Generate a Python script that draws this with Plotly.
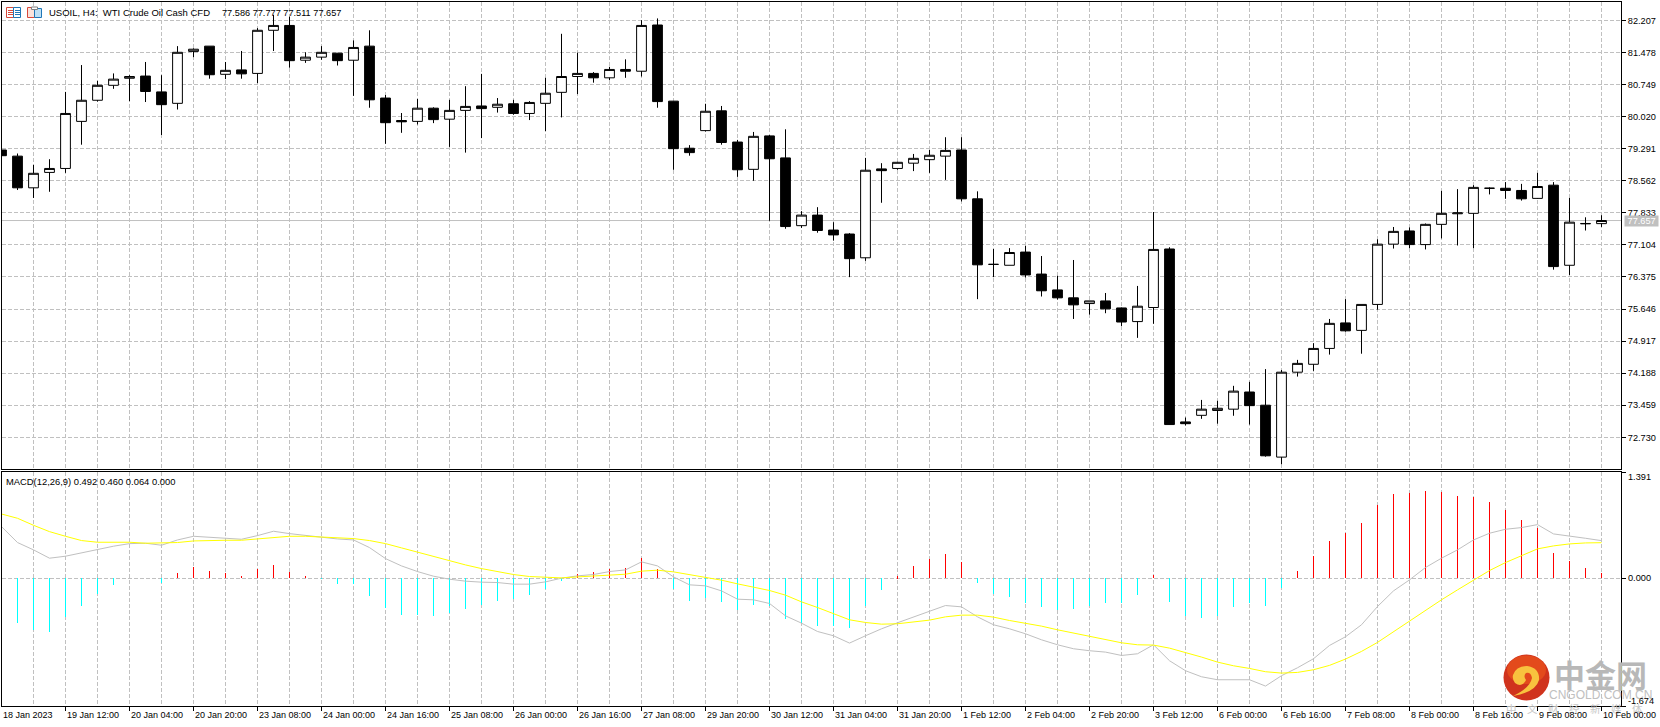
import plotly.graph_objects as go

W, H = 1660, 727

# ---------- data ----------
opens = [79.26,79.12,78.40,78.75,78.84,79.91,80.39,80.73,80.89,80.94,80.58,80.32,81.50,81.62,80.98,81.08,81.00,81.98,82.09,81.30,
         81.37,81.46,81.30,81.62,80.44,79.93,79.91,80.21,79.96,80.16,80.26,80.23,80.31,80.09,80.32,80.57,80.93,81.00,80.90,81.09,
         81.05,82.10,80.37,79.30,79.70,80.15,79.44,78.82,79.58,79.08,77.54,77.78,77.44,77.35,76.81,78.83,78.84,78.96,79.04,79.12,
         79.26,78.15,76.66,76.64,76.94,76.44,76.08,75.90,75.77,75.83,75.67,75.36,75.68,77.01,73.08,73.23,73.34,73.37,73.76,73.46,
         72.28,74.21,74.39,74.75,75.33,75.16,75.75,77.12,77.42,77.11,77.57,77.81,77.82,78.39,78.39,78.34,78.16,78.46,76.64,77.59,77.586]
highs = [79.26,79.18,78.92,79.05,80.58,81.19,80.83,81.00,80.96,81.26,80.96,81.62,81.57,81.62,81.26,81.51,82.03,82.33,82.29,81.48,
         81.62,81.46,81.75,81.98,80.51,80.10,80.42,80.23,80.40,80.71,80.99,80.44,80.40,80.37,80.90,81.90,81.47,81.03,81.15,81.32,
         82.21,82.25,80.37,79.37,80.31,80.26,79.49,79.67,79.60,79.73,77.87,77.96,77.62,77.37,79.08,78.96,78.99,79.17,79.26,79.55,
         79.55,78.32,77.01,77.03,77.08,76.85,76.40,76.76,75.83,76.01,75.68,76.17,77.85,77.05,73.18,73.58,73.56,73.90,73.99,74.28,
         74.26,74.49,74.87,75.42,75.87,75.75,77.23,77.51,77.50,77.59,78.33,78.37,78.46,78.41,78.53,78.49,78.74,78.53,78.17,77.73,77.777]
lows = [79.13,78.35,78.17,78.31,78.74,79.38,80.36,80.65,80.37,80.35,79.60,80.18,81.37,80.88,80.87,80.88,80.78,81.51,81.13,81.24,
        81.31,81.18,80.49,80.22,79.40,79.65,79.84,79.87,79.33,79.20,79.53,80.11,80.06,79.94,79.69,80.00,80.53,80.79,80.85,80.90,
        80.93,80.22,78.81,79.13,79.68,79.38,78.65,78.56,77.65,77.47,77.49,77.38,77.20,76.37,76.74,78.06,78.81,78.78,78.74,78.58,
        78.09,75.87,76.37,76.64,76.36,75.93,75.86,75.42,75.52,75.55,75.26,74.99,75.31,73.02,73.00,73.15,73.04,73.22,73.02,72.29,
        72.12,74.11,74.24,74.61,75.13,74.63,75.63,77.02,77.03,77.00,77.25,77.09,77.03,78.25,78.15,78.11,78.15,76.54,76.42,77.43,77.511]
closes = [79.13,78.40,78.73,78.84,80.09,80.39,80.73,80.87,80.93,80.59,80.29,81.48,81.55,80.97,81.07,80.99,81.98,82.09,81.29,81.37,
          81.48,81.29,81.59,80.40,79.88,79.90,80.21,79.95,80.16,80.25,80.20,80.30,80.09,80.34,80.55,80.93,81.00,80.90,81.09,81.05,
          82.09,80.36,79.29,79.20,80.14,79.43,78.81,79.57,79.06,77.52,77.78,77.43,77.33,76.79,78.80,78.79,78.98,79.07,79.14,79.25,
          78.15,76.65,76.66,76.93,76.42,76.06,75.90,75.74,75.83,75.65,75.35,75.71,77.00,73.02,73.04,73.37,73.39,73.78,73.45,72.31,
          74.21,74.41,74.75,75.32,75.15,75.75,77.12,77.41,77.11,77.57,77.82,77.83,78.41,78.39,78.34,78.15,78.43,76.61,77.62,77.585,77.657]

osma = [0,-.584,-.676,-.702,-.514,-.358,-.205,-.087,0,0,-.065,.070,.148,.096,.070,.031,.122,.174,.087,.031,
        -.009,-.074,-.078,-.231,-.392,-.480,-.488,-.493,-.458,-.401,-.349,-.296,-.270,-.218,-.140,-.035,.052,.083,.122,.135,
        .266,.122,-.144,-.296,-.257,-.310,-.414,-.349,-.362,-.532,-.589,-.623,-.623,-.650,-.362,-.153,.026,.161,.253,.318,
        .214,-.061,-.205,-.244,-.327,-.375,-.410,-.401,-.362,-.323,-.331,-.218,.044,-.310,-.493,-.519,-.493,-.375,-.331,-.362,
        -.126,.096,.292,.488,.593,.724,.959,1.103,1.116,1.142,1.129,1.077,1.064,.998,.894,.763,.658,.331,.227,.135,.064]
macd_main = [.676,.467,.371,.262,.288,.331,.379,.419,.453,.458,.432,.501,.549,.536,.519,.510,.558,.615,.584,.558,
             .536,.514,.501,.401,.257,.161,.087,.026,-.013,-.039,-.052,-.057,-.078,-.078,-.048,0,.031,.048,.087,.109,
             .214,.161,.017,-.087,-.100,-.166,-.275,-.283,-.331,-.493,-.589,-.698,-.754,-.850,-.754,-.663,-.584,-.506,-.427,-.358,
             -.375,-.506,-.610,-.663,-.728,-.807,-.872,-.924,-.950,-.968,-1.012,-.990,-.872,-1.081,-1.212,-1.291,-1.330,-1.334,-1.330,-1.413,
             -1.277,-1.173,-1.055,-.881,-.767,-.610,-.371,-.166,-.022,.140,.262,.371,.501,.589,.641,.663,.702,.580,.554,.523,.492]
macd_signal = [.841,.785,.693,.610,.549,.493,.471,.471,.471,.458,.458,.467,.488,.497,.497,.497,.514,.536,.549,.549,
               .541,.532,.519,.493,.453,.397,.340,.283,.227,.174,.126,.087,.048,.022,.009,.004,.017,.026,.039,.052,
               .092,.105,.083,.048,.013,-.026,-.074,-.113,-.161,-.222,-.310,-.384,-.467,-.545,-.580,-.602,-.597,-.576,-.549,-.506,
               -.484,-.484,-.510,-.554,-.589,-.628,-.676,-.719,-.763,-.802,-.846,-.872,-.876,-.916,-.972,-1.033,-1.099,-1.147,-1.182,-1.225,
               -1.243,-1.234,-1.199,-1.142,-1.059,-.959,-.841,-.702,-.554,-.423,-.283,-.153,-.031,.100,.205,.296,.384,.423,.449,.462,.465]

price_ticks = [82.207,81.478,80.749,80.020,79.291,78.562,77.833,77.104,76.375,75.646,74.917,74.188,73.459,72.730]
time_labels = ["18 Jan 2023","19 Jan 12:00","20 Jan 04:00","20 Jan 20:00","23 Jan 08:00","24 Jan 00:00","24 Jan 16:00",
               "25 Jan 08:00","26 Jan 00:00","26 Jan 16:00","27 Jan 08:00","29 Jan 20:00","30 Jan 12:00","31 Jan 04:00",
               "31 Jan 20:00","1 Feb 12:00","2 Feb 04:00","2 Feb 20:00","3 Feb 12:00","6 Feb 00:00","6 Feb 16:00",
               "7 Feb 08:00","8 Feb 00:00","8 Feb 16:00","9 Feb 08:00","10 Feb 00:00"]
last_price = 77.657
bars = list(range(len(closes)))
hist_colors = ["#FF0000" if v > 0 else "#00FFFF" for v in osma]

# ---------- style ----------
FONT = "'Liberation Sans', Arial, sans-serif"
FS = 9.2
GRID = "#C0C0C0"
DASH = "4px,2px"
BLK = "#000000"
X_START = 0.03125
X_END = 101.21875


def px(x):
    return x / W


def py(y):
    return 1 - y / H


def txt(text, x, y, size=FS, color=BLK, family=FONT, xanchor="left", xref="paper", yref="paper", **kw):
    return dict(text=text, x=x, y=y, xref=xref, yref=yref, xanchor=xanchor, yanchor="middle",
                showarrow=False, borderpad=0, font=dict(family=family, size=size, color=color), **kw)


fig = go.Figure()
fig.add_trace(go.Candlestick(
    x=bars, open=opens, high=highs, low=lows, close=closes,
    xaxis="x", yaxis="y", whiskerwidth=0, hoverinfo="skip", showlegend=False,
    increasing=dict(fillcolor="#FFFFFF", line=dict(color=BLK, width=1)),
    decreasing=dict(fillcolor=BLK, line=dict(color=BLK, width=1)),
))
fig.add_trace(go.Bar(x=bars, y=osma, width=0.05, marker=dict(color=hist_colors, line=dict(width=0)),
                     xaxis="x2", yaxis="y2", hoverinfo="skip", showlegend=False))
fig.add_trace(go.Scatter(x=bars, y=macd_main, mode="lines", line=dict(color="#C0C0C0", width=1),
                         xaxis="x2", yaxis="y2", hoverinfo="skip", showlegend=False))
fig.add_trace(go.Scatter(x=bars, y=macd_signal, mode="lines", line=dict(color="#FFFF00", width=1),
                         xaxis="x2", yaxis="y2", hoverinfo="skip", showlegend=False))

xcommon = dict(range=[X_START, X_END], domain=[px(2), px(1621)], tickmode="linear", tick0=0, dtick=4,
               showgrid=True, gridcolor=GRID, griddash=DASH, gridwidth=1,
               minor=dict(tick0=0, dtick=2, showgrid=True, gridcolor=GRID, griddash=DASH, gridwidth=1, ticks=""),
               showline=True, linecolor=BLK, linewidth=1, mirror=True, zeroline=False,
               showticklabels=False, rangeslider=dict(visible=False), fixedrange=True)
ycommon = dict(side="right", showline=True, linecolor=BLK, linewidth=1, mirror=True, zeroline=False,
               ticks="outside", ticklen=4, tickcolor=BLK, tickwidth=1, fixedrange=True,
               tickfont=dict(family=FONT, size=FS, color=BLK),
               showgrid=True, gridcolor=GRID, griddash=DASH, gridwidth=1)

annotations = [
    # watermark
    txt("<b>中金网</b>", px(1600), py(673), size=31, color="#B8B8B8", family="'Noto Sans CJK SC'", xanchor="center"),
    txt("CNGOLD.COM.CN", px(1600), py(695), size=12, color="#C0C0C0", xanchor="center"),
    txt("中\u3000文\u3000财\u3000经\u3000新\u3000媒\u3000体", px(1574.5), py(708.5), size=10.5, color="#C8C8C8",
        family="'Noto Sans CJK SC'", xanchor="center"),
]
annotations += [txt(lab, max(k * 4, X_START + 0.01), py(715), size=9, xref="x2") for k, lab in enumerate(time_labels)]
annotations += [
    txt("USOIL, H4:\u00a0\u00a0WTI Crude Oil Cash CFD", px(47.5), py(12.5), size=9.5),
    txt("77.586 77.777 77.511 77.657", px(220.7), py(12.5)),
    txt("MACD(12,26,9) 0.492 0.460 0.064 0.000", px(4.6), py(481), size=9.4),
    txt("1.391", px(1627), py(476.5)),
    txt("0.000", px(1627), 0.0, yref="y2"),
    txt("-1.674", px(1627), py(700.5)),
    txt("\u00a077.657\u00a0", px(1624), last_price, yref="y", color="#FFFFFF", bgcolor="#C0C0C0"),
]


def rect(x0, y0, x1, y1, line, fill="rgba(0,0,0,0)", lw=1):
    return dict(type="rect", xref="paper", yref="paper", x0=px(x0), x1=px(x1), y0=py(y0), y1=py(y1),
                line=dict(color=line, width=lw), fillcolor=fill, layer="above")


def hline(x0, x1, y, color):
    return dict(type="line", xref="paper", yref="paper", x0=px(x0), x1=px(x1), y0=py(y), y1=py(y),
                line=dict(color=color, width=1), layer="above")


def pth(points, fill):
    return dict(type="path", xref="paper", yref="paper", fillcolor=fill, line=dict(width=0), layer="above",
                path=points)


def P(x, y):
    return f"{px(x):.6f},{py(y):.6f}"


RED, BLUE = "#D9493A", "#1F77B8"
shapes = [
    dict(type="line", xref="x", x0=X_START, x1=X_END, yref="y", y0=last_price, y1=last_price,
         line=dict(color="#C0C0C0", width=1), layer="below"),
    # toolbar icons
    rect(6.5, 7.5, 13.5, 17.5, RED), rect(13.5, 7.5, 20.5, 17.5, BLUE),
    hline(8, 13, 10.5, RED), hline(8, 13, 12.5, RED), hline(8, 13, 14.5, RED),
    hline(15, 20, 10.5, BLUE), hline(15, 20, 12.5, BLUE), hline(15, 20, 14.5, BLUE),
    rect(27.5, 7.5, 34.5, 17.5, RED, "#FBE3DC"), rect(34.5, 8.5, 41.5, 17.5, BLUE, "#BFE0F5"),
    rect(31.5, 7, 37.5, 9.5, "#808080", "#FFFFFF"),
    # watermark logo
    dict(type="circle", xref="paper", yref="paper", x0=px(1503.5), x1=px(1549.5), y0=py(654.5), y1=py(700.5),
         fillcolor="#D0331D", line=dict(width=0), layer="above"),
    dict(type="circle", xref="paper", yref="paper", x0=px(1507), x1=px(1546), y0=py(655.5), y1=py(684),
         fillcolor="#E34A1C", line=dict(width=0), layer="above"),
    pth("M " + P(1513, 675) + " Q " + P(1516, 666) + " " + P(1527, 666)
        + " Q " + P(1540, 668) + " " + P(1539, 680)
        + " Q " + P(1536, 692) + " " + P(1513, 696)
        + " Q " + P(1530, 688) + " " + P(1532, 678)
        + " Q " + P(1531, 672) + " " + P(1526, 673)
        + " Q " + P(1523, 676) + " " + P(1526, 680)
        + " Q " + P(1522, 688) + " " + P(1515, 683) + " Q " + P(1512, 679) + " " + P(1513, 675) + " Z", "#F8C23E"),
]

fig.update_layout(
    width=W, height=H, margin=dict(l=0, r=0, t=0, b=0), autosize=False,
    paper_bgcolor="#FFFFFF", plot_bgcolor="#FFFFFF", showlegend=False,
    boxgap=0.39, boxgroupgap=0, bargap=0,
    xaxis=dict(**xcommon, anchor="y", ticks=""),
    yaxis=dict(**ycommon, domain=[py(469), py(2)], range=[72.010, 82.623], anchor="x",
               tickmode="array", tickvals=price_ticks, ticktext=[f"{v:.3f}" for v in price_ticks]),
    xaxis2=dict(**xcommon, anchor="y2", ticks="outside", ticklen=4, tickcolor=BLK, tickwidth=1, matches="x"),
    yaxis2=dict(**ycommon, domain=[py(706), py(472)], range=[-1.674, 1.391], anchor="x2",
                tickmode="array", tickvals=[1.391, 0.0, -1.674], ticktext=["", "", ""]),
    annotations=annotations, shapes=shapes,
)
fig.write_html("out.html", config=dict(displayModeBar=False, responsive=False),
               post_script="document.body.style.margin='0';document.body.style.overflow='hidden';")
